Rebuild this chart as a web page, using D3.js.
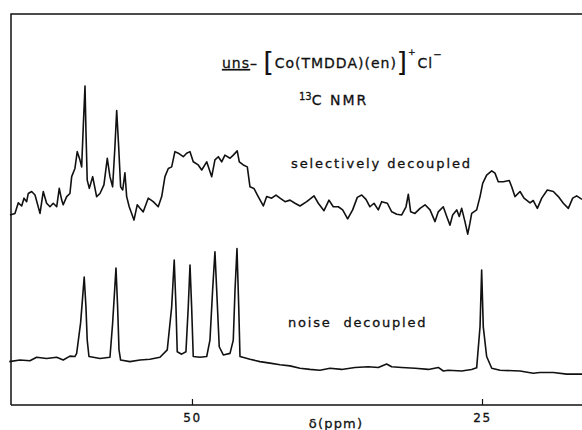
<!DOCTYPE html>
<html>
<head>
<meta charset="utf-8">
<script src="https://cdn.jsdelivr.net/npm/d3@7"></script>
<style>
  body { margin: 0; background: #fff; }
  svg { display: block; }
  .lbl { font-family: "DejaVu Sans", sans-serif; fill: #111; stroke: #111; stroke-width: 0.3px; }
</style>
</head>
<body>
<div id="chart"></div>
<script>
// 13C NMR spectra, uns-[Co(TMDDA)(en)]+Cl-

// chemical shift (ppm) and intensity (arbitrary units)
const selPpm = [65.69, 65.26, 64.97, 64.68, 64.48, 64.25, 64.11, 63.82, 63.53, 63.10, 62.82, 62.53, 62.24, 61.96, 61.66, 61.44, 61.23, 61.10, 60.80, 60.52,
  60.37, 60.09, 59.89, 59.66, 59.51, 59.37, 59.22, 59.14, 59.03, 58.85, 58.56, 58.22, 57.93, 57.59, 57.30, 57.07, 56.84, 56.64, 56.49, 56.32,
  56.15, 55.97, 55.78, 55.63, 55.41, 55.20, 55.00, 54.72, 54.48, 54.20, 53.77, 53.34, 52.91, 52.61, 52.33, 52.04, 51.75, 51.47, 51.18, 50.75,
  50.46, 50.17, 49.89, 49.46, 49.16, 48.73, 48.30, 48.02, 47.73, 47.44, 47.16, 46.72, 46.44, 46.10, 45.92, 45.58, 45.23, 45.00, 44.66, 44.29,
  43.85, 43.56, 43.13, 42.76, 42.41, 41.98, 41.55, 41.12, 40.69, 40.11, 39.48, 39.11, 38.62, 38.19, 37.82, 37.39, 37.01, 36.58, 36.15, 35.75,
  35.37, 35.00, 34.66, 34.31, 33.94, 33.65, 33.16, 32.78, 32.35, 31.92, 31.55, 31.35, 31.15, 30.78, 30.34, 29.91, 29.48, 29.05, 28.77, 28.34,
  28.04, 27.76, 27.53, 27.18, 26.96, 26.75, 26.47, 26.23, 26.04, 25.89, 25.46, 25.17, 24.94, 24.60, 24.16, 23.88, 23.60, 23.16, 22.65, 22.44,
  22.16, 21.72, 21.38, 20.86, 20.58, 20.23, 19.85, 19.37, 18.85, 18.42, 17.99, 17.56, 17.18, 16.84, 16.38];
const selInt = [48.6, 49.0, 51.7, 50.9, 52.9, 52.0, 54.1, 54.6, 53.7, 49.0, 54.6, 51.6, 50.7, 51.6, 50.7, 55.4, 52.4, 51.2, 53.3, 54.1,
  58.4, 60.5, 64.8, 62.7, 60.9, 71.2, 81.6, 70.3, 57.5, 55.4, 58.4, 53.3, 54.1, 56.3, 63.1, 58.4, 55.8, 66.1, 75.3, 66.1,
  55.8, 55.0, 59.4, 53.3, 50.7, 49.0, 47.3, 51.2, 50.3, 49.4, 52.9, 52.0, 50.7, 53.3, 58.4, 60.5, 60.9, 64.8, 64.4, 63.5,
  64.4, 64.8, 62.2, 61.4, 60.1, 62.2, 58.4, 62.7, 63.5, 62.2, 63.9, 63.1, 63.9, 65.0, 62.2, 61.4, 60.9, 55.8, 55.4, 53.3,
  50.9, 53.3, 52.9, 53.7, 52.9, 52.0, 52.4, 51.6, 50.9, 52.0, 53.5, 51.6, 49.7, 52.4, 50.7, 50.7, 49.9, 47.6, 49.9, 53.1,
  53.7, 52.6, 50.7, 51.6, 49.9, 52.0, 51.6, 49.4, 48.8, 48.6, 50.7, 53.9, 49.4, 49.0, 50.3, 51.2, 49.9, 46.9, 49.4, 50.7,
  48.2, 46.0, 48.6, 49.9, 48.2, 50.3, 46.9, 43.7, 46.5, 49.0, 49.9, 53.3, 56.7, 58.8, 59.9, 59.3, 57.1, 57.1, 57.4, 55.8,
  53.3, 54.6, 52.9, 51.7, 52.3, 50.3, 52.9, 55.0, 54.6, 53.3, 51.6, 50.3, 52.9, 53.5, 52.6];

const noisePpm = [65.75, 64.83, 63.97, 63.39, 62.53, 61.66, 61.10, 60.52, 60.09, 59.94, 59.60, 59.29, 59.14, 59.03, 58.88, 58.51, 57.93, 57.07, 56.84, 56.55,
  56.41, 56.29, 56.15, 55.35, 54.48, 53.62, 52.76, 52.13, 51.75, 51.53, 51.38, 51.27, 50.89, 50.52, 50.32, 50.17, 50.03, 49.89, 49.31, 48.73,
  48.45, 48.22, 48.02, 47.87, 47.65, 47.30, 46.72, 46.44, 46.29, 46.12, 45.97, 45.86, 45.00, 44.14, 43.28, 42.41, 41.55, 40.69, 39.83, 38.97,
  38.10, 37.10, 35.95, 34.80, 33.94, 33.22, 32.79, 31.92, 30.77, 29.62, 28.77, 28.33, 27.91, 26.76, 25.90, 25.46, 25.17, 25.03, 24.89, 24.60,
  24.16, 23.45, 21.72, 20.58, 20.01, 18.85, 17.70, 16.38];
const noiseInt = [11.1, 11.5, 11.3, 12.2, 11.9, 12.2, 11.5, 12.5, 12.4, 13.2, 21.0, 32.7, 25.1, 16.6, 12.4, 12.2, 11.9, 12.2, 20.9, 35.0,
  25.1, 14.1, 11.5, 11.1, 11.5, 11.7, 12.2, 14.1, 25.1, 37.1, 25.1, 13.6, 13.0, 13.6, 25.1, 35.8, 25.1, 12.4, 12.2, 12.4,
  16.6, 29.4, 39.2, 29.4, 14.9, 12.8, 13.2, 16.6, 29.4, 40.0, 25.1, 12.4, 11.7, 11.1, 10.7, 10.3, 10.0, 9.4, 9.1, 8.9,
  9.4, 9.1, 9.6, 9.8, 9.6, 10.5, 9.8, 9.6, 9.4, 9.1, 9.6, 8.7, 8.9, 8.7, 9.1, 9.5, 20.0, 34.5, 20.0, 12.4,
  9.4, 8.9, 8.7, 8.1, 8.3, 8.3, 7.9, 7.9];

const tickValues = [50, 25];

const W = 582, H = 430;
const frame = { left: 11, top: 14, bottom: 405 };

const svg = d3.select("#chart").append("svg")
  .attr("width", W)
  .attr("height", H);

// x runs downfield -> upfield, right frame edge is off the page
const x = d3.scaleLinear().domain([65.6, 16.38]).range([frame.left, 582]);
const y = d3.scaleLinear().domain([0, 100]).range([frame.bottom, frame.top]);

// frame: top and left lines
svg.append("path")
  .attr("d", `M${frame.left},${frame.bottom} V${frame.top} H${W}`)
  .attr("fill", "none")
  .attr("stroke", "#111")
  .attr("stroke-width", 1.5);

// bottom axis, ticks pointing up
const axis = svg.append("g")
  .attr("transform", `translate(0,${frame.bottom})`)
  .call(d3.axisBottom(x).tickValues(tickValues).tickSizeInner(-6).tickSizeOuter(0).tickPadding(8));
axis.select(".domain").attr("stroke", "#111").attr("stroke-width", 1.5).attr("d", `M${frame.left},0H${W}`);
axis.selectAll(".tick line").attr("stroke", "#111").attr("stroke-width", 1.2);
axis.selectAll(".tick text")
  .attr("class", "lbl")
  .style("font-size", "12px")
  .attr("letter-spacing", 1.5)
  .attr("fill", "#111");

// spectra
const line = d3.line().x((d) => x(d[0])).y((d) => y(d[1]));
const traces = [
  d3.zip(selPpm, selInt),
  d3.zip(noisePpm, noiseInt),
];
svg.selectAll(".trace")
  .data(traces)
  .enter()
  .append("path")
  .attr("class", "trace")
  .attr("d", line)
  .attr("fill", "none")
  .attr("stroke", "#111")
  .attr("stroke-width", 1.6)
  .attr("stroke-linejoin", "round");

// title
const title = svg.append("text")
  .attr("class", "lbl")
  .attr("x", 222)
  .attr("y", 68)
  .style("font-size", "14px")
  .attr("letter-spacing", 1);
title.append("tspan").text("uns").attr("text-decoration", "underline");
title.append("tspan").text("– ");
title.append("tspan").text("[").style("font-size", "26px").style("stroke-width", "0.2px").attr("dy", 3);
title.append("tspan").text("Co(TMDDA)(en)").attr("dy", -3);
title.append("tspan").text("]").style("font-size", "26px").style("stroke-width", "0.2px").attr("dy", 3);
title.append("tspan").text("+").style("font-size", "9px").attr("dy", -16);
title.append("tspan").text("Cl").attr("dx", 1).attr("dy", 13);
title.append("tspan").text("−").style("font-size", "10px").attr("dy", -10);

const sub = svg.append("text")
  .attr("class", "lbl")
  .attr("x", 299)
  .attr("y", 105)
  .style("font-size", "14px")
  .attr("letter-spacing", 2);
sub.append("tspan").text("13").style("font-size", "10px").attr("letter-spacing", 0).attr("dy", -5);
sub.append("tspan").text("C NMR").attr("dy", 5);

svg.append("text")
  .attr("class", "lbl")
  .attr("x", 291)
  .attr("y", 168)
  .style("font-size", "13px")
  .attr("letter-spacing", 1.9)
  .text("selectively decoupled");

svg.append("text")
  .attr("class", "lbl")
  .attr("x", 288)
  .attr("y", 327)
  .style("font-size", "13px")
  .attr("letter-spacing", 1.8)
  .style("white-space", "pre")
  .text("noise  decoupled");

svg.append("text")
  .attr("class", "lbl")
  .attr("x", 336)
  .attr("y", 428)
  .attr("text-anchor", "middle")
  .style("font-size", "13px")
  .attr("letter-spacing", 1.2)
  .text("δ(ppm)");
</script>
</body>
</html>
